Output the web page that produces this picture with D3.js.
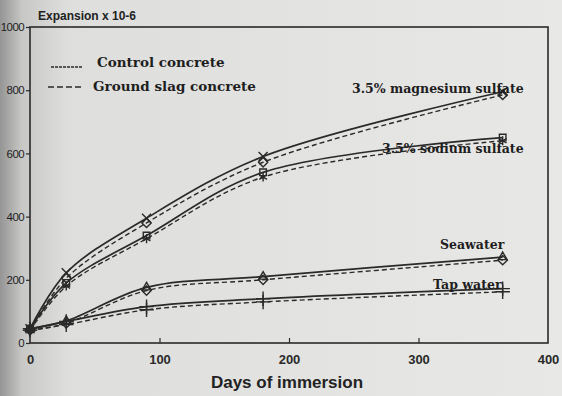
<!DOCTYPE html>
<html>
<head>
<meta charset="utf-8">
<script src="https://cdn.jsdelivr.net/npm/d3@7"></script>
<style>
  html, body { margin: 0; padding: 0; background: #e4e4e2; }
  svg { display: block; }
</style>
</head>
<body>
<div id="chart"></div>
<script>
// days of immersion
const days = [0, 28, 90, 180, 365];

// expansion x 10-6, control (solid) and ground slag (dashed)
const mgControl = [45, 222, 395, 590, 795];
const mgSlag = [42, 205, 380, 572, 785];
const naControl = [45, 190, 340, 540, 650];
const naSlag = [40, 180, 330, 525, 640];
const seaControl = [45, 70, 176, 210, 272];
const seaSlag = [40, 62, 166, 200, 262];
const tapControl = [45, 68, 115, 140, 172];
const tapSlag = [40, 58, 105, 130, 162];

const xTicks = [0, 100, 200, 300, 400];
const yTicks = [0, 200, 400, 600, 800, 1000];

const width = 562;
const height = 396;
const margin = { top: 27, right: 14, bottom: 53, left: 30 };

const svg = d3.select('#chart').append('svg')
  .attr('width', width)
  .attr('height', height);

// scanned paper look: darker toward the binding
const defs = svg.append('defs');
const grad = defs.append('linearGradient').attr('id', 'paper');
grad.append('stop').attr('offset', '0%').attr('stop-color', '#959595');
grad.append('stop').attr('offset', '4%').attr('stop-color', '#c8c8c6');
grad.append('stop').attr('offset', '12%').attr('stop-color', '#dededc');
grad.append('stop').attr('offset', '100%').attr('stop-color', '#e8e8e6');
svg.append('rect').attr('width', width).attr('height', height).attr('fill', 'url(#paper)');

const x = d3.scaleLinear().domain([0, 400]).range([margin.left, width - margin.right]);
const y = d3.scaleLinear().domain([0, 1000]).range([height - margin.bottom, margin.top]);

const ink = '#2a2a2a';

// frame
svg.append('rect')
  .attr('x', x(0)).attr('y', y(1000))
  .attr('width', x(400) - x(0)).attr('height', y(0) - y(1000))
  .attr('fill', 'none').attr('stroke', ink).attr('stroke-width', 1.6);

// axes
const gX = svg.append('g')
  .attr('transform', 'translate(0,' + y(0) + ')')
  .call(d3.axisBottom(x).tickValues(xTicks).tickSize(-5).tickPadding(12).tickFormat(d3.format('d')));
gX.select('.domain').remove();
gX.selectAll('.tick line').attr('stroke', ink).attr('stroke-width', 1.2);
gX.selectAll('.tick text')
  .style('font', 'bold 13px "Liberation Sans", Arial, sans-serif')
  .attr('fill', '#2a2a2a');
gX.selectAll('.tick').filter(d => d === 0 || d === 400).select('line').remove();

const gY = svg.append('g')
  .attr('transform', 'translate(' + x(0) + ',0)')
  .call(d3.axisLeft(y).tickValues(yTicks).tickSize(4).tickPadding(2).tickFormat(d3.format('d')));
gY.select('.domain').remove();
gY.selectAll('.tick line').attr('stroke', ink).attr('stroke-width', 1.2);
gY.selectAll('.tick text')
  .style('font', '11.5px "Liberation Sans", Arial, sans-serif')
  .style('letter-spacing', '-0.6px')
  .attr('fill', '#1e1e1e');

// curves
const line = d3.line()
  .x(d => x(d[0]))
  .y(d => y(d[1]))
  .curve(d3.curveCatmullRom.alpha(0.5));

const series = [
  { v: mgControl, dash: null, mark: 'cross' },
  { v: mgSlag, dash: '5,3', mark: 'diamond' },
  { v: naControl, dash: null, mark: 'square' },
  { v: naSlag, dash: '5,3', mark: 'star' },
  { v: seaControl, dash: null, mark: 'triangle' },
  { v: seaSlag, dash: '5,3', mark: 'diamond' },
  { v: tapControl, dash: null, mark: 'plus' },
  { v: tapSlag, dash: '5,3', mark: 'plus' }
];

const symbolType = {
  cross: d3.symbolTimes,
  diamond: d3.symbolDiamond2,
  square: d3.symbolSquare2,
  star: d3.symbolAsterisk,
  triangle: d3.symbolTriangle2,
  plus: d3.symbolPlus
};

series.forEach(s => {
  const pts = days.map((d, i) => [d, s.v[i]]);
  svg.append('path')
    .datum(pts)
    .attr('d', line)
    .attr('fill', 'none')
    .attr('stroke', ink)
    .attr('stroke-width', s.dash ? 1.4 : 1.7)
    .attr('stroke-dasharray', s.dash);

  svg.selectAll(null)
    .data(pts)
    .enter()
    .append('path')
    .attr('transform', d => 'translate(' + x(d[0]) + ',' + y(d[1]) + ')')
    .attr('d', d3.symbol().type(symbolType[s.mark]).size(s.mark === 'plus' ? 70 : 55))
    .attr('fill', 'none')
    .attr('stroke', ink)
    .attr('stroke-width', 1.4);
});

// curve labels
const labelFont = 'bold 12.5px "DejaVu Serif", "Liberation Serif", serif';
const labels = [
  { t: '3.5% magnesium sulfate', x: 352, y: 93 },
  { t: '3.5% sodium sulfate', x: 382, y: 153 },
  { t: 'Seawater', x: 440, y: 249 },
  { t: 'Tap water', x: 433, y: 289 }
];
svg.selectAll('.curve-label')
  .data(labels)
  .enter()
  .append('text')
  .attr('x', d => d.x)
  .attr('y', d => d.y)
  .style('font', labelFont)
  .attr('fill', '#1e1e1e')
  .text(d => d.t);

// legend
const legend = svg.append('g');
legend.append('line')
  .attr('x1', 51).attr('x2', 82).attr('y1', 67).attr('y2', 67)
  .attr('stroke', ink).attr('stroke-width', 1.4).attr('stroke-dasharray', '3,1');
legend.append('line')
  .attr('x1', 48).attr('x2', 83).attr('y1', 87).attr('y2', 87)
  .attr('stroke', ink).attr('stroke-width', 1.6).attr('stroke-dasharray', '6,3');
legend.append('text')
  .attr('x', 97).attr('y', 67)
  .style('font', 'bold 13.5px "DejaVu Serif", "Liberation Serif", serif')
  .attr('fill', '#1e1e1e')
  .text('Control concrete');
legend.append('text')
  .attr('x', 93).attr('y', 91)
  .style('font', 'bold 13.5px "DejaVu Serif", "Liberation Serif", serif')
  .attr('fill', '#1e1e1e')
  .text('Ground slag concrete');

// axis titles
svg.append('text')
  .attr('x', 38).attr('y', 20)
  .style('font', 'bold 12px "Liberation Sans", Arial, sans-serif')
  .attr('fill', '#222')
  .text('Expansion x 10-6');

svg.append('text')
  .attr('x', 287).attr('y', 388)
  .attr('text-anchor', 'middle')
  .style('font', 'bold 17px "Liberation Sans", Arial, sans-serif')
  .attr('fill', '#222')
  .text('Days of immersion');
</script>
</body>
</html>
